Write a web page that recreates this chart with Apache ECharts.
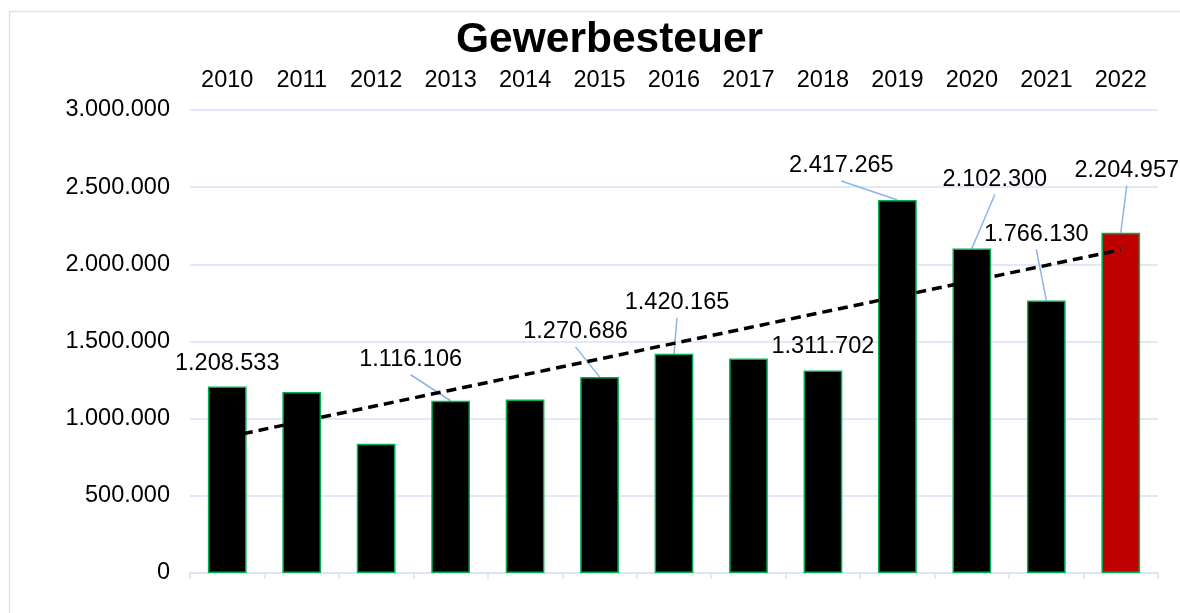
<!DOCTYPE html>
<html>
<head>
    <meta charset="utf-8">
    <title>Gewerbesteuer</title>
    <script src="https://cdn.jsdelivr.net/npm/echarts@6/dist/echarts.min.js"></script>
    <style>
        html, body {margin: 0; padding: 0; background: #fff;}
        #chart {width: 1180px; height: 613px;}
    </style>
</head>
<body>
<div id="chart"></div>
<script>
    // Werte
    var years = ['2010', '2011', '2012', '2013', '2014', '2015', '2016', '2017', '2018', '2019', '2020', '2021', '2022'];
    var revenue = [1208533, 1172000, 838000, 1116106, 1125000, 1270686, 1420165, 1390000, 1311702, 2417265, 2102300, 1766130, 2204957];
    var labelled = [true, false, false, true, false, true, true, false, true, true, true, true, true];
    var yMin = 0, yMax = 3000000, yStep = 500000;

    var font = 'Liberation Sans, Arial, sans-serif';

    // Verschiebung der Beschriftungen (dx, dy) und ob eine Führungslinie gezeigt wird
    var labelShift = {
        0: [0, -6, false], 3: [-40, -24, true], 5: [-24, -28, true], 6: [3, -34, true],
        8: [0, -7, false], 9: [-56, -17, true], 10: [23, -52, true], 11: [-10, -49, true], 12: [6, -45, true]
    };

    function fmt(v) {
        return String(Math.round(v)).replace(/\B(?=(\d{3})+(?!\d))/g, '.');
    }

    // lineare Trendlinie (kleinste Quadrate) wie in Excel
    var n = revenue.length, mx = (n - 1) / 2, my = 0;
    revenue.forEach(function (v) { my += v / n; });
    var sxy = 0, sxx = 0;
    revenue.forEach(function (v, i) { sxy += (i - mx) * (v - my); sxx += (i - mx) * (i - mx); });
    var slope = sxy / sxx;
    var trend = revenue.map(function (v, i) { return my + slope * (i - mx); });

    var barData = revenue.map(function (v, i) {
        return {
            value: v,
            itemStyle: {color: i === n - 1 ? '#c00000' : '#000000'},
            label: {show: labelled[i]}
        };
    });

    var chart = echarts.init(document.getElementById('chart'));
    chart.setOption({
        animation: false,
        backgroundColor: '#ffffff',
        title: {
            text: 'Gewerbesteuer',
            left: 456,
            top: 19,
            padding: 0,
            textStyle: {fontFamily: font, fontSize: 42.5, fontWeight: 'bold', color: '#000'}
        },
        grid: {left: 190, right: 22, top: 110, bottom: 40},
        xAxis: [{
            type: 'category',
            data: years,
            position: 'bottom',
            axisLine: {lineStyle: {color: '#d9e2f3', width: 1.5}},
            axisTick: {show: true, interval: 0, length: 6, lineStyle: {color: '#d9e2f3', width: 1.5}},
            axisLabel: {show: false}
        }, {
            type: 'category',
            data: years,
            position: 'top',
            axisLine: {show: false},
            axisTick: {show: false},
            axisLabel: {margin: 17, fontFamily: font, fontSize: 23.5, color: '#000'}
        }],
        yAxis: {
            type: 'value',
            min: yMin,
            max: yMax,
            interval: yStep,
            axisLine: {show: false},
            axisTick: {show: false},
            splitLine: {lineStyle: {color: '#d9e2f3', width: 1.5}},
            axisLabel: {
                margin: 20, fontFamily: font, fontSize: 23.5, color: '#000',
                formatter: function (v) { return fmt(v); }
            }
        },
        series: [{
            type: 'bar',
            xAxisIndex: 0,
            data: barData,
            barWidth: '52%',
            itemStyle: {borderColor: '#00b050', borderWidth: 1.5},
            label: {
                position: 'top',
                distance: 5,
                fontFamily: font,
                fontSize: 23.5,
                color: '#000',
                formatter: function (p) { return fmt(p.value); }
            },
            labelLayout: function (p) {
                var s = labelShift[p.dataIndex];
                if (!s) return {};
                return {dx: s[0], dy: s[1]};
            },
            z: 2
        }, {
            type: 'line',
            xAxisIndex: 0,
            data: trend,
            symbol: 'none',
            silent: true,
            lineStyle: {color: '#000', width: 3.5, type: [10, 6]},
            z: 3
        }]
    });

    // Führungslinien: von der Unterkante der Beschriftung zur Mitte der Säulenoberkante
    var guides = [];
    revenue.forEach(function (v, i) {
        var s = labelShift[i];
        if (!labelled[i] || !s || !s[2]) return;
        var top = chart.convertToPixel({seriesIndex: 0}, [i, v]);
        guides.push({
            type: 'line',
            silent: true,
            z: 1,
            shape: {x1: top[0] + s[0], y1: top[1] + s[1] - 2, x2: top[0], y2: top[1]},
            style: {stroke: '#8eb4e3', lineWidth: 1.5}
        });
    });
    guides.push({
        type: 'rect',
        silent: true,
        shape: {x: 9.5, y: 11.5, width: 1200, height: 700},
        style: {fill: 'none', stroke: '#d9e2f3', lineWidth: 1.5}
    });
    chart.setOption({graphic: guides});
</script>
</body>
</html>
